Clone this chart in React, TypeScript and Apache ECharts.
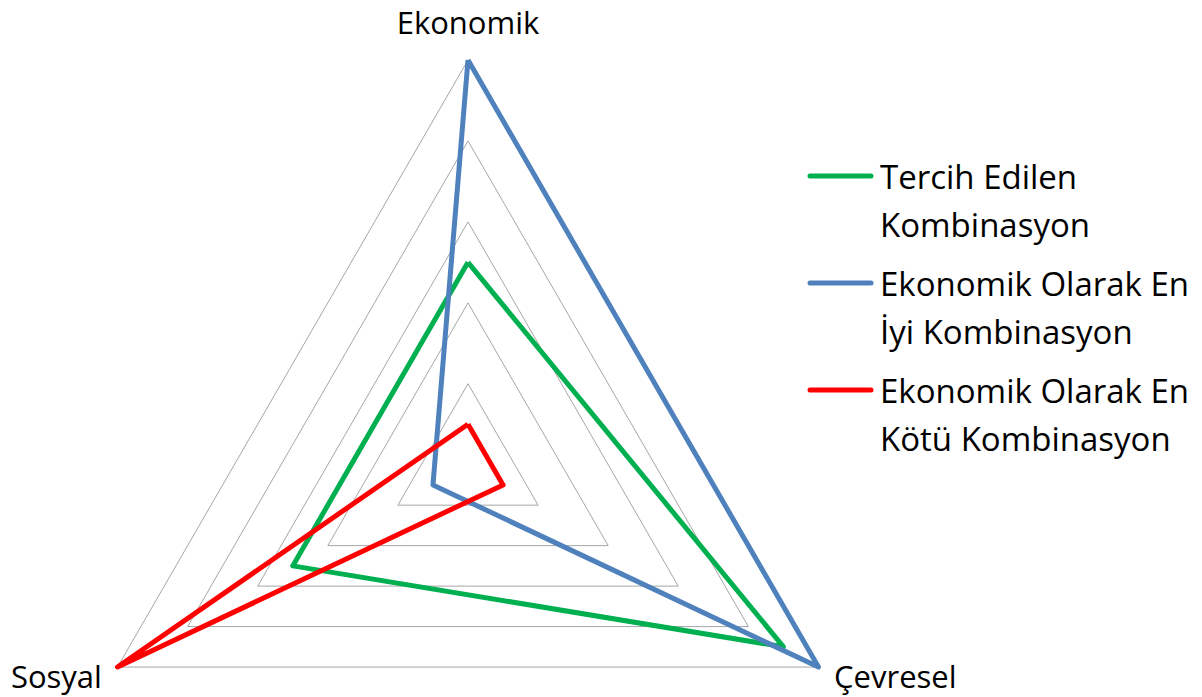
import React, { useEffect, useRef } from "react";
import * as echarts from "echarts";

const indicators = ["Ekonomik", "Sosyal", "Çevresel"];
const seriesNames = ["Tercih Edilen Kombinasyon", "Ekonomik Olarak En İyi Kombinasyon", "Ekonomik Olarak En Kötü Kombinasyon"];
const legendLines = [["Tercih Edilen", "Kombinasyon"], ["Ekonomik Olarak En", "İyi Kombinasyon"], ["Ekonomik Olarak En", "Kötü Kombinasyon"]];
const preferred = [0.5, 0.5, 0.9];
const bestEconomic = [1.0, 0.1, 1.0];
const worstEconomic = [0.1, 1.0, 0.1];
const colors = ["#00B050", "#4F81BD", "#FF0000"];

const FONT = "'Open Sans', 'Noto Sans', sans-serif";

export default function App() {
  const ref = useRef<HTMLDivElement>(null);
  useEffect(() => {
    if (!ref.current) return;
    const chart = echarts.init(ref.current, undefined, { renderer: "svg" });
    const values = [preferred, bestEconomic, worstEconomic];
    const legendGraphics: any[] = [];
    const baseY = 176;
    legendLines.forEach((lines, i) => {
      const y = baseY + i * 107;
      legendGraphics.push({
        type: "line",
        shape: { x1: 810, y1: y, x2: 871, y2: y },
        style: { stroke: colors[i], lineWidth: 5, lineCap: "round" },
      });
      lines.forEach((t, j) => {
        legendGraphics.push({
          type: "text",
          x: 880,
          y: y + j * 48,
          style: {
            text: t,
            fill: "#000",
            font: `33px ${FONT}`,
            textAlign: "left",
            textVerticalAlign: "middle",
          },
        });
      });
    });
    chart.setOption({
      animation: false,
      backgroundColor: "#fff",
      radar: {
        center: [468, 464.7],
        radius: 404.7,
        startAngle: 90,
        shape: "polygon",
        splitNumber: 5,
        indicator: indicators.map((n) => ({ name: n, min: 0, max: 1 })),
        axisLine: { show: false },
        axisTick: { show: false },
        axisLabel: { show: false },
        splitArea: { show: false },
        splitLine: { lineStyle: { color: "#A6A6A6", width: 1 } },
        axisNameGap: 18,
        axisName: {
          color: "#000",
          fontSize: 31,
          fontFamily: FONT,
          formatter: (name: string) => (name === indicators[0] ? `{top|${name}}` : `{low|${name}}`),
          rich: {
            top: { fontSize: 31, fontFamily: FONT, color: "#000", lineHeight: 33, padding: [0, 0, 8, 0] },
            low: { fontSize: 31, fontFamily: FONT, color: "#000", lineHeight: 2 },
          },
        },
      },
      series: [
        {
          type: "radar",
          symbol: "none",
          data: values.map((v, i) => ({
            name: seriesNames[i],
            value: v,
            lineStyle: { color: colors[i], width: 5 },
            itemStyle: { color: colors[i] },
          })),
        },
      ],
      graphic: legendGraphics,
    });
    return () => chart.dispose();
  }, []);
  return <div ref={ref} style={{ position: "fixed", left: 0, top: 0, width: 1202, height: 697 }} />;
}
